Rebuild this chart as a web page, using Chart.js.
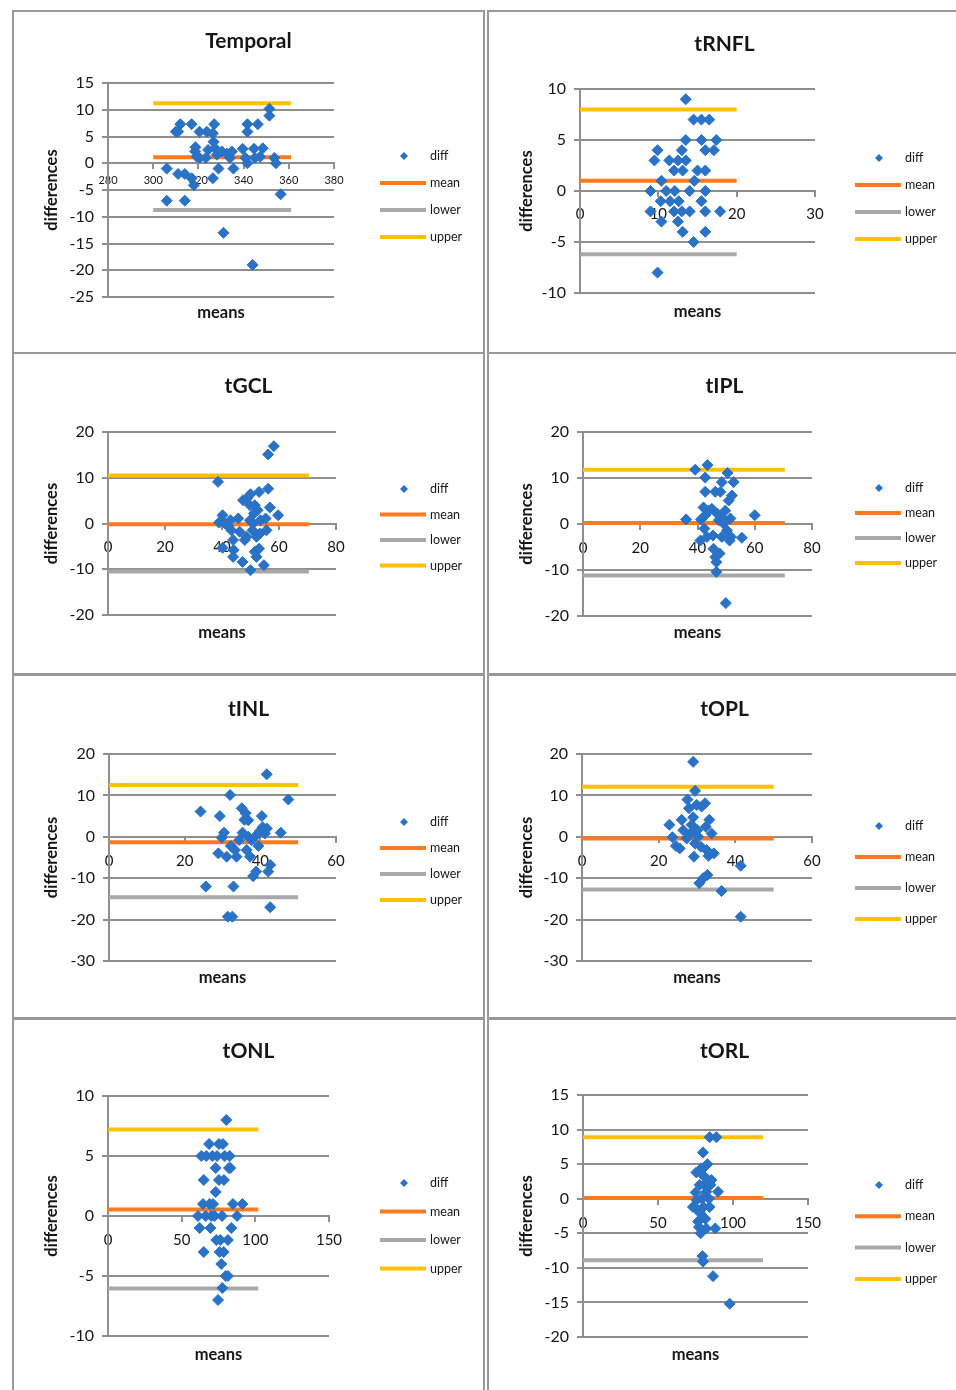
<!DOCTYPE html>
<html>
<head>
<meta charset="utf-8">
<script src="https://cdn.jsdelivr.net/npm/chart.js@4.4.1/dist/chart.umd.min.js"></script>
<style>
  body { margin: 0; background: #fff; width: 956px; height: 1390px; overflow: hidden; position: relative; }
  .panel { position: absolute; box-sizing: border-box; border: 2px solid #999; }
  canvas { position: absolute; }
</style>
</head>
<body>
<script>
// values: x = mean of the two measures, y = difference
// limits are [mean, lower, upper], span is where the limit lines start and end

const temporalMeans = [306, 306, 310, 312, 311, 311, 314, 314, 317, 318, 317, 318.6, 318.7, 319.3, 320.5, 320.5, 323.3, 323.7, 324.3, 326.4, 326.7, 327, 327.4, 328.2, 326.4, 328.9, 330.4, 331.1, 332.6, 334, 334.8, 335.5, 339.6, 340.8, 341.7, 341.7, 341.7, 344, 344.6, 345, 346.3, 347.3, 348.5, 351.4, 351.4, 353.6, 354.3, 356.4];
const temporalDiffs = [-7, -1, 5.9, 7.3, 5.9, -2, -2, -7, -2.8, -4.1, 7.3, 2.2, 3, 1.2, 5.9, 1, 1, 5.9, 2.5, 5.6, 4, 7.3, 2.8, 1.6, -2.8, -1, 2.2, -13, 1.8, 1, 2.2, -1, 2.7, 1, 7.3, 5.9, 0, -19, 2.7, 1, 7.3, 1.2, 2.8, 10.2, 8.9, 1, 0, -5.8];
const temporalLimits = [1.1, -8.75, 11.2];
const temporalSpan = [300, 361];
const temporalXTicks = [280, 380, 20];
const temporalYTicks = [-25, 15, 5];

const rnflMeans = [9, 9, 9.5, 9.9, 9.9, 10.4, 10.4, 10.3, 11, 11.4, 11.5, 12, 12.1, 12, 12.5, 12.6, 12.5, 13, 13.1, 13, 13.1, 13.5, 13.5, 13.5, 14, 14, 14.5, 14.6, 14.5, 15, 15.5, 15.5, 15.5, 16, 16, 16, 16, 16, 16.5, 17.4, 17.1, 17.9];
const rnflDiffs = [0, -2, 3, 4, -8, 1, -3, -1, 0, 3, -1, 2, 0, -2, 3, -1, -3, 4, 2, -2, -4, 3, 5, 9, 0, -2, 7, 1, -5, 2, 7, 5, -1, 4, 2, 0, -2, -4, 7, 5, 4, -2];
const rnflLimits = [1.0, -6.2, 8.0];
const rnflSpan = [0, 20];
const rnflXTicks = [0, 30, 10];
const rnflYTicks = [-10, 10, 5];

const gclMeans = [38.6, 39, 40.2, 40.2, 41, 42.2, 43, 43.3, 43.9, 44.1, 43.9, 45.7, 46.2, 47.2, 47.4, 48, 48.6, 48.8, 49.8, 50, 49.8, 50, 50.7, 50.9, 51.2, 51.5, 51.5, 52.1, 52.1, 52.5, 53, 53.3, 53.5, 53, 54.7, 55.3, 55.6, 56.2, 56.2, 56.8, 58.2, 59.7];
const gclDiffs = [9.1, 0.2, 1.8, -5.3, 0, -0.6, 0.7, -1.5, -3.6, -5.8, -7.3, 1.1, -1.8, -8.4, 5.1, -3.6, -2.9, 5.5, 4, 6.4, 0.7, -10.2, -1.5, 0, 2.2, 4, -6.2, -7.3, -2.9, 2.9, 6.9, -2.2, 0.7, -5.5, -9.1, 1.1, -1.5, 7.6, 15.1, 3.5, 16.9, 1.8];
const gclLimits = [-0.15, -10.5, 10.5];
const gclSpan = [0, 70.5];
const gclXTicks = [0, 80, 20];
const gclYTicks = [-20, 20, 10];

const iplMeans = [36, 39.2, 41, 41.2, 42.1, 42.7, 42.7, 42.4, 42.7, 43.5, 43.3, 43.9, 45, 45.4, 45.6, 46.2, 46.2, 46.6, 46.6, 47, 47.4, 47.7, 48, 48.5, 48.5, 48.9, 49.1, 49.7, 49.9, 50.3, 50.5, 50.9, 51.2, 51.5, 51.7, 52, 52.6, 55.5, 60];
const iplDiffs = [1, 11.8, -3.6, 1, 3.6, 10.1, 7, -1, 1.9, 12.8, -2.8, 2.9, 3.3, -2.5, -5.4, 7, -7.2, -8.3, -10.4, 2.2, 0.8, -6.4, 7, 9.1, -2.8, 1.2, 0.1, 2.9, -17.2, -1.4, 11.1, 5.1, -3.6, 1.2, -2.8, 6.2, 9.1, -3, 1.9];
const iplLimits = [0.2, -11.2, 11.8];
const iplSpan = [0, 70.5];
const iplXTicks = [0, 80, 20];
const iplYTicks = [-20, 20, 10];

const inlMeans = [24.2, 25.6, 28.9, 29.3, 29.8, 30.4, 31.1, 31.4, 32, 32.2, 32.6, 32.9, 33.3, 33.7, 34.4, 35.1, 35.3, 35.8, 36.1, 36.4, 36.8, 36.8, 37.3, 37.7, 38.1, 38.9, 39, 39.5, 39.9, 40.4, 40.6, 41.2, 41.7, 41.7, 42.1, 42.6, 42.6, 45.4, 47.4];
const inlDiffs = [6.1, -12, -4, 5, -0.2, 1, -4.8, -19.3, 10.1, -2.2, -19.3, -12, -3.2, -4.8, -0.8, 6.9, 1, 4.1, 5.7, -3.2, 4, 0, -4.8, -0.8, -9.5, -8.4, 0.4, -2.2, 1.4, 5, 2.3, 0.8, 2, 15.1, -8.4, -6.8, -17, 1, 9];
const inlLimits = [-1.3, -14.6, 12.5];
const inlSpan = [0, 50];
const inlXTicks = [0, 60, 20];
const inlYTicks = [-30, 20, 10];

const oplMeans = [22.8, 23.6, 24.5, 25.5, 26, 26.4, 27.3, 27.5, 27.9, 28.3, 28.6, 29, 29, 29.5, 29.2, 29.5, 29.9, 30.1, 30.3, 30.6, 31, 31.2, 31.6, 32.1, 32.3, 32.5, 32.7, 33, 33.2, 33.8, 34.4, 36.4, 41.4, 41.4];
const oplDiffs = [2.9, -0.1, -2.2, -2.8, 4.1, 1.6, -0.4, 9, 6.9, 0.8, 2.9, 4.7, 18.1, 11.1, -4.8, -1.6, 7.7, 1.6, 0, -11.2, -2.4, 7.3, -10, 8.1, 2.4, -3.2, -9.2, -4.6, 4.1, 0.8, -4, -13.1, -7, -19.3];
const oplLimits = [-0.4, -12.7, 12.1];
const oplSpan = [0, 50];
const oplXTicks = [0, 60, 20];
const oplYTicks = [-30, 20, 10];

const onlMeans = [62.2, 61.1, 63.3, 64.5, 65, 65, 66.3, 66.7, 68.6, 69, 69.5, 70.1, 70.8, 71.3, 72.4, 73.1, 73.1, 73.5, 74, 74.7, 75.3, 75.3, 75.8, 76.2, 77.4, 76.9, 77.6, 78, 78.5, 78.7, 79.2, 79.9, 80.3, 81.4, 82.1, 81.4, 83, 82.6, 83.7, 84.8, 87.6, 91.2];
const onlDiffs = [-1, 0, 5, 1, 3, -3, 0, 5, 6, 1, -1, 0, 5, 1, 0, 4, 2, -2, 5, -7, 6, 3, -3, -2, 0, -4, -6, 6, -3, 3, 5, -5, 8, -2, 4, -5, 4, 5, -1, 1, 0, 1];
const onlLimits = [0.55, -6.05, 7.2];
const onlSpan = [0, 102];
const onlXTicks = [0, 150, 50];
const onlYTicks = [-10, 10, 5];

const orlMeans = [73.3, 75.6, 75.1, 75.8, 76.7, 76.7, 77.3, 77.8, 78.2, 78.4, 78.9, 79.3, 79.6, 80, 80, 80, 80.4, 81.1, 81.1, 81.6, 82.2, 82.2, 82.9, 83.3, 84, 84.4, 84.4, 84.9, 85.6, 86.7, 88.2, 88.9, 90, 97.8];
const orlDiffs = [-1.2, 3.8, 0.9, -0.2, -1.7, -3.3, -4.1, 2, -2.1, -5, 4.4, 0, -8.3, -9.1, 6.7, 3.4, -1.2, 4.6, 2, -2.9, 1, -4.3, 5, 2.7, 0, 8.9, -1.2, 2, 2.7, -11.2, -4.3, 8.9, 1, -15.2];
const orlLimits = [0.1, -8.9, 8.9];
const orlSpan = [0, 120];
const orlXTicks = [0, 150, 50];
const orlYTicks = [-20, 15, 5];

const legendNames = ['diff', 'mean', 'lower', 'upper'];

const panels = [
  { title: 'Temporal', means: temporalMeans, diffs: temporalDiffs, limits: temporalLimits, span: temporalSpan, xTicks: temporalXTicks, yTicks: temporalYTicks },
  { title: 'tRNFL', means: rnflMeans, diffs: rnflDiffs, limits: rnflLimits, span: rnflSpan, xTicks: rnflXTicks, yTicks: rnflYTicks },
  { title: 'tGCL', means: gclMeans, diffs: gclDiffs, limits: gclLimits, span: gclSpan, xTicks: gclXTicks, yTicks: gclYTicks },
  { title: 'tIPL', means: iplMeans, diffs: iplDiffs, limits: iplLimits, span: iplSpan, xTicks: iplXTicks, yTicks: iplYTicks },
  { title: 'tINL', means: inlMeans, diffs: inlDiffs, limits: inlLimits, span: inlSpan, xTicks: inlXTicks, yTicks: inlYTicks },
  { title: 'tOPL', means: oplMeans, diffs: oplDiffs, limits: oplLimits, span: oplSpan, xTicks: oplXTicks, yTicks: oplYTicks },
  { title: 'tONL', means: onlMeans, diffs: onlDiffs, limits: onlLimits, span: onlSpan, xTicks: onlXTicks, yTicks: onlYTicks },
  { title: 'tORL', means: orlMeans, diffs: orlDiffs, limits: orlLimits, span: orlSpan, xTicks: orlXTicks, yTicks: orlYTicks },
];

// page positions: panel box, plot area, title/legend/axis-title rows
const layouts = [
  { box: [12, 10, 473, 344], area: [108, 83, 334, 297], titleY: 41, legendY: 156, legendStep: 27, meansY: 313, xFont: 11, xPad: 6 },
  { box: [487, 10, 475, 344], area: [580, 89, 815, 293], titleY: 44, legendY: 158, legendStep: 27, meansY: 312, xFont: 15, xPad: 9 },
  { box: [12, 352, 473, 323], area: [108, 432, 336, 615], titleY: 386, legendY: 489, legendStep: 25.5, meansY: 633, xFont: 15, xPad: 10 },
  { box: [487, 352, 475, 323], area: [583, 432, 812, 616], titleY: 386, legendY: 488, legendStep: 25, meansY: 633, xFont: 15, xPad: 10 },
  { box: [12, 674, 473, 345], area: [109, 754, 336, 961], titleY: 709, legendY: 822, legendStep: 26, meansY: 978, xFont: 15, xPad: 10 },
  { box: [487, 674, 475, 345], area: [582, 754, 812, 961], titleY: 709, legendY: 826, legendStep: 31, meansY: 978, xFont: 15, xPad: 10 },
  { box: [12, 1018, 473, 377], area: [108, 1096, 329, 1336], titleY: 1051, legendY: 1183, legendStep: 28.5, meansY: 1355, xFont: 15, xPad: 10 },
  { box: [487, 1018, 475, 377], area: [583, 1095, 808, 1337], titleY: 1051, legendY: 1185, legendStep: 31.3, meansY: 1355, xFont: 15, xPad: 10 },
];

const BLUE = '#2a72c6';
const GRID = '#8f8f8f';
const INK = '#161616';
const limitColors = ['#fb7a22', '#a8a8a8', '#ffc000'];
const YW = 60;

Chart.defaults.font.family = 'Lato, "Open Sans", sans-serif';

function diamond(ctx, x, y, r) {
  ctx.beginPath();
  ctx.moveTo(x - r, y);
  ctx.lineTo(x, y - r);
  ctx.lineTo(x + r, y);
  ctx.lineTo(x, y + r);
  ctx.closePath();
  ctx.fill();
}

function makePanel(p, l) {
  const [bx, by, bw, bh] = l.box;
  const [al, at, ar, ab] = l.area;

  const frame = document.createElement('div');
  frame.className = 'panel';
  frame.style.left = bx + 'px';
  frame.style.top = by + 'px';
  frame.style.width = bw + 'px';
  frame.style.height = bh + 'px';
  document.body.appendChild(frame);

  const cv = document.createElement('canvas');
  cv.width = bw;
  cv.height = bh;
  cv.style.left = bx + 'px';
  cv.style.top = by + 'px';
  document.body.appendChild(cv);

  const points = p.means.map((m, i) => ({ x: m, y: p.diffs[i] }));
  const limitSets = p.limits.map((v, i) => ({
    type: 'line',
    label: legendNames[i + 1],
    data: [{ x: p.span[0], y: v }, { x: p.span[1], y: v }],
    borderColor: limitColors[i],
    backgroundColor: limitColors[i],
    borderWidth: 4,
    pointRadius: 0,
    fill: false,
  }));

  // titles and legend, drawn after the chart
  const decor = {
    id: 'decor',
    afterDraw(chart) {
      const ctx = chart.ctx;
      const a = chart.chartArea;
      ctx.save();
      ctx.fillStyle = INK;
      ctx.textAlign = 'center';
      ctx.textBaseline = 'middle';
      ctx.font = 'bold 21px Lato';
      ctx.fillText(p.title, bw / 2, l.titleY - by);
      ctx.font = 'bold 16.5px Lato';
      ctx.fillText('means', (a.left + a.right) / 2, l.meansY - by);
      ctx.save();
      ctx.translate(40, (a.top + a.bottom) / 2);
      ctx.rotate(-Math.PI / 2);
      ctx.fillText('differences', 0, 0);
      ctx.restore();

      ctx.font = '12.5px Lato';
      ctx.textAlign = 'left';
      legendNames.forEach((name, i) => {
        const y = l.legendY - by + i * l.legendStep;
        if (i === 0) {
          ctx.fillStyle = BLUE;
          diamond(ctx, 392, y, 4);
        } else {
          ctx.strokeStyle = limitColors[i - 1];
          ctx.lineWidth = 4;
          ctx.beginPath();
          ctx.moveTo(368, y);
          ctx.lineTo(414, y);
          ctx.stroke();
        }
        ctx.fillStyle = INK;
        ctx.fillText(name, 418, y);
      });
      ctx.restore();
    },
  };

  new Chart(cv, {
    type: 'scatter',
    data: {
      datasets: [
        {
          label: 'diff',
          data: points,
          pointStyle: 'rectRot',
          pointRadius: 5.5,
          backgroundColor: BLUE,
          borderColor: BLUE,
          borderWidth: 1,
        },
        ...limitSets,
      ],
    },
    options: {
      responsive: false,
      animation: false,
      events: [],
      layout: {
        padding: { left: al - bx - YW, top: at - by, right: bx + bw - ar, bottom: by + bh - ab },
      },
      plugins: {
        legend: { display: false },
        tooltip: { enabled: false },
      },
      scales: {
        x: {
          type: 'linear',
          position: { y: 0 },
          min: p.xTicks[0],
          max: p.xTicks[1],
          ticks: { stepSize: p.xTicks[2], color: INK, font: { size: l.xFont }, padding: l.xPad, maxRotation: 0, autoSkip: false },
          grid: { drawOnChartArea: false, color: GRID, lineWidth: 2, tickLength: 5 },
          border: { color: GRID, width: 2 },
        },
        y: {
          min: p.yTicks[0],
          max: p.yTicks[1],
          ticks: { stepSize: p.yTicks[2], color: INK, font: { size: 16 }, padding: 8 },
          grid: { color: GRID, lineWidth: 2, tickLength: 6 },
          border: { color: GRID, width: 2 },
          afterFit: (s) => { s.width = YW; },
        },
      },
    },
    plugins: [decor],
  });
}

function drawAll() {
  panels.forEach((p, i) => makePanel(p, layouts[i]));
}

if (document.fonts && document.fonts.load) {
  Promise.all([document.fonts.load('bold 21px Lato'), document.fonts.load('16px Lato')])
    .then(drawAll, drawAll);
} else {
  drawAll();
}
</script>
</body>
</html>
